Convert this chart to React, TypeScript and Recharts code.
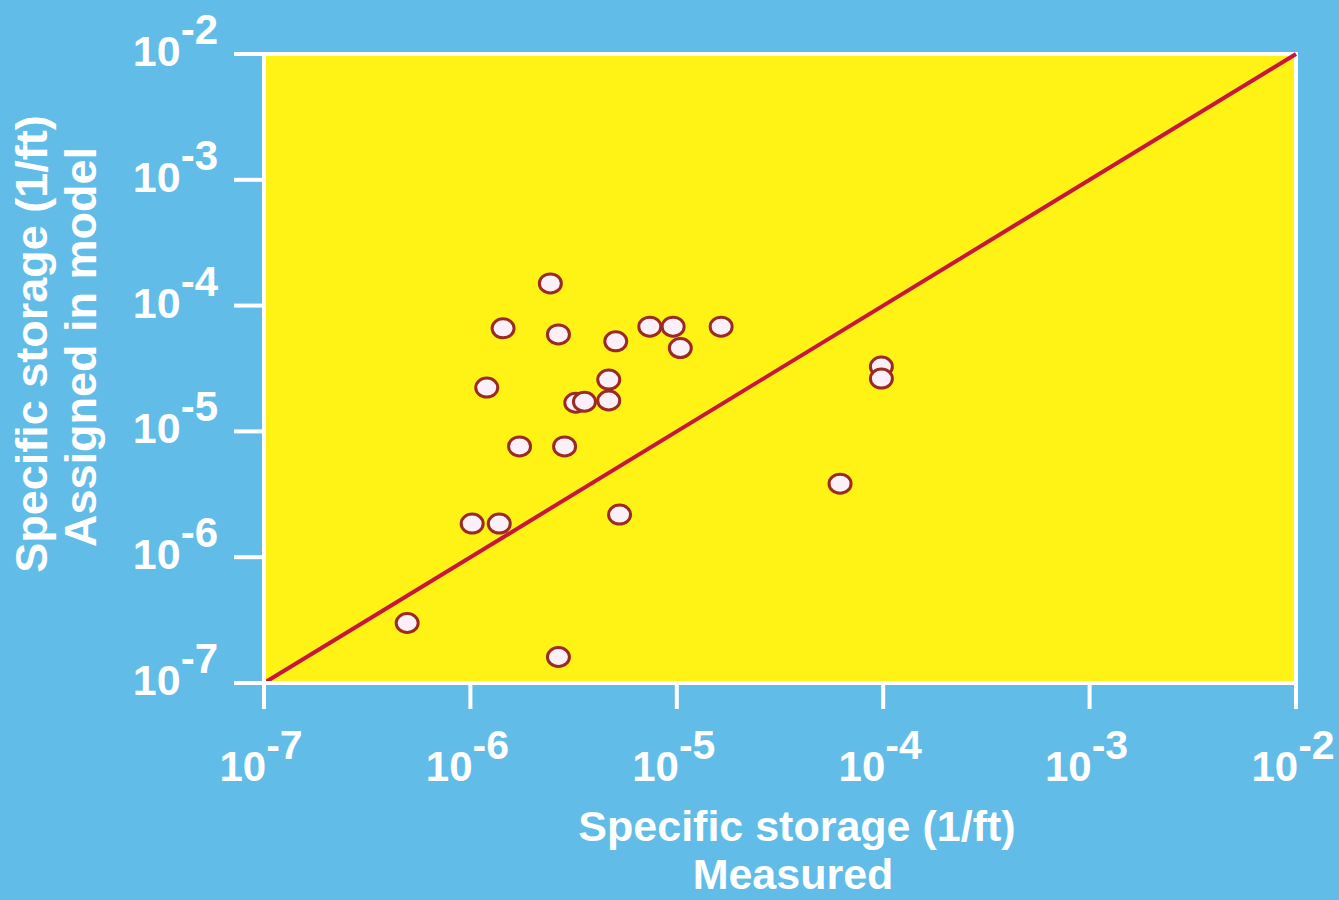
import {
  ScatterChart,
  Scatter,
  XAxis,
  YAxis,
  ReferenceArea,
  ReferenceLine,
} from "recharts";

// measured vs model-assigned specific storage (1/ft)
const measured = [
  2.44e-6, 1.44e-6, 2.67e-6, 5.06e-6, 7.4e-6, 9.6e-6, 1.04e-5, 1.64e-5,
  1.2e-6, 4.68e-6, 4.68e-6, 3.24e-6, 3.57e-6, 1.73e-6, 2.86e-6, 1.02e-6,
  1.38e-6, 5.28e-6, 4.94e-7, 2.67e-6, 6.18e-5, 9.8e-5, 9.8e-5,
];
const assigned = [
  1.5e-4, 6.6e-5, 5.9e-5, 5.2e-5, 6.8e-5, 6.8e-5, 4.6e-5, 6.8e-5,
  2.23e-5, 2.58e-5, 1.76e-5, 1.69e-5, 1.72e-5, 7.6e-6, 7.6e-6, 1.85e-6,
  1.85e-6, 2.18e-6, 3.0e-7, 1.61e-7, 3.84e-6, 3.28e-5, 2.63e-5,
];
const axisTicks = [1e-7, 1e-6, 1e-5, 1e-4, 1e-3, 1e-2];
const axisDomain = [1e-7, 1e-2];
const oneToOne = [1e-7, 1e-2];

const points = measured.map((m, i) => ({ measured: m, assigned: assigned[i] }));

const BLUE = "#61bce8";
const YELLOW = "#fff215";
const FONT = "'Liberation Sans', Arial, Helvetica, sans-serif";

function expOf(v: number) {
  return Math.round(Math.log10(v));
}

function XTick({ x, y, payload }: any) {
  return (
    <text
      x={x - 3}
      y={y + 70}
      textAnchor="middle"
      fill="#fff"
      fontFamily={FONT}
      fontWeight={700}
    >
      <tspan fontSize={42}>10</tspan>
      <tspan fontSize={41} dy={-22}>
        {expOf(payload.value)}
      </tspan>
    </text>
  );
}

function YTick({ x, y, payload }: any) {
  return (
    <text
      x={x}
      y={y + 12}
      textAnchor="end"
      fill="#fff"
      fontFamily={FONT}
      fontWeight={700}
    >
      <tspan fontSize={43}>10</tspan>
      <tspan fontSize={42} dy={-22}>
        {expOf(payload.value)}
      </tspan>
    </text>
  );
}

function Dot({ cx, cy }: any) {
  if (cx == null || cy == null) return <g />;
  return (
    <ellipse
      cx={cx}
      cy={cy}
      rx={11}
      ry={9.5}
      fill="#fbf0f7"
      stroke="#9a2a22"
      strokeWidth={3}
    />
  );
}

const titleStyle = {
  fill: "#fff",
  fontFamily: FONT,
  fontWeight: 700,
  fontSize: 45,
};

const xTitleStyle = { ...titleStyle, fontSize: 43 };

function XTitle() {
  return (
    <g>
      <text x={797} y={841} textAnchor="middle" style={xTitleStyle}>
        Specific storage (1/ft)
      </text>
      <text x={793} y={889} textAnchor="middle" style={xTitleStyle}>
        Measured
      </text>
    </g>
  );
}

function YTitle() {
  return (
    <g>
      <text
        transform="translate(47,344) rotate(-90)"
        textAnchor="middle"
        style={titleStyle}
      >
        Specific storage (1/ft)
      </text>
      <text
        transform="translate(96,347) rotate(-90)"
        textAnchor="middle"
        style={titleStyle}
      >
        Assigned in model
      </text>
    </g>
  );
}

export default function App() {
  return (
    <div
      style={{
        position: "absolute",
        left: 0,
        top: 0,
        width: 1339,
        height: 900,
        background: BLUE,
      }}
    >
      <ScatterChart
        width={1339}
        height={900}
        margin={{ top: 54, right: 43, left: 0, bottom: 0 }}
      >
        <XAxis
          type="number"
          dataKey="measured"
          scale="log"
          domain={axisDomain}
          ticks={axisTicks}
          allowDataOverflow
          height={217}
          tickSize={26}
          tickMargin={2}
          axisLine={{ stroke: "#fff", strokeWidth: 4 }}
          tickLine={{ stroke: "#fff", strokeWidth: 4 }}
          tick={<XTick />}
          label={{ content: () => <XTitle /> }}
        />
        <YAxis
          type="number"
          dataKey="assigned"
          scale="log"
          domain={axisDomain}
          ticks={axisTicks}
          allowDataOverflow
          width={264}
          tickSize={30}
          tickMargin={16}
          axisLine={{ stroke: "#fff", strokeWidth: 4 }}
          tickLine={{ stroke: "#fff", strokeWidth: 4 }}
          tick={<YTick />}
          label={{ content: () => <YTitle /> }}
        />
        <ReferenceArea
          x1={axisDomain[0]}
          x2={axisDomain[1]}
          y1={axisDomain[0]}
          y2={axisDomain[1]}
          fill={YELLOW}
          fillOpacity={1}
          stroke="#fff"
          strokeWidth={4}
        />
        <ReferenceLine
          segment={[
            { x: oneToOne[0], y: oneToOne[0] },
            { x: oneToOne[1], y: oneToOne[1] },
          ]}
          stroke="#c8163a"
          strokeWidth={4}
        />
        <Scatter data={points} shape={<Dot />} isAnimationActive={false} />
      </ScatterChart>
    </div>
  );
}
